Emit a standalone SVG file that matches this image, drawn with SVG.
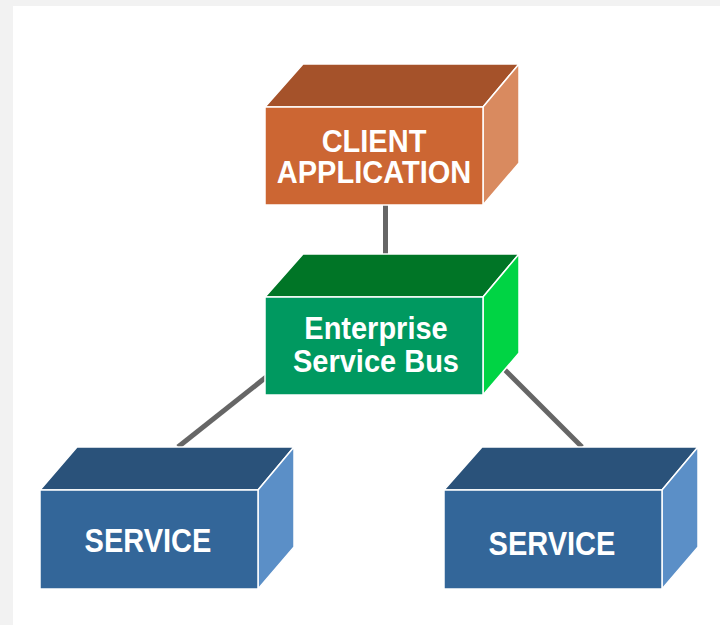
<svg xmlns="http://www.w3.org/2000/svg" width="720" height="625" viewBox="0 0 720 625">
<style>
.edge{stroke:#ffffff;stroke-width:1.5;stroke-linejoin:round}
.lbl{font-family:"Liberation Sans",Arial,sans-serif;font-weight:bold;font-size:29px;fill:#ffffff;text-anchor:middle}
.conn{stroke:#666666;stroke-width:5;fill:none}
</style>
<rect x="0" y="0" width="720" height="625" fill="#f2f2f2"/>
<rect x="13" y="6" width="707" height="619" fill="#ffffff"/>
<g id="connectors">
<line class="conn" x1="385.5" y1="200" x2="385.5" y2="258"/>
<line class="conn" x1="270" y1="374" x2="178" y2="447"/>
<line class="conn" x1="500" y1="365" x2="582" y2="447"/>
</g>
<g id="client">
<polygon class="edge" fill="#a5522a" points="265,107 303,64 519,64 483,107"/>
<polygon class="edge" fill="#d98a5f" points="483,107 519,64 519,163 483,205"/>
<rect class="edge" fill="#cc6633" x="265" y="107" width="218" height="98"/>
<text class="lbl" transform="translate(374,152) scale(1,1.06)">CLIENT</text>
<text class="lbl" transform="translate(374,183) scale(1,1.06)">APPLICATION</text>
</g>
<g id="esb">
<polygon class="edge" fill="#007526" points="265,297 303,254 519,254 483,297"/>
<polygon class="edge" fill="#00d444" points="483,297 519,254 519,353 483,395"/>
<rect class="edge" fill="#009960" x="265" y="297" width="218" height="98"/>
<text class="lbl" transform="translate(376,339) scale(1,1.06)">Enterprise</text>
<text class="lbl" transform="translate(376,372) scale(1,1.06)">Service Bus</text>
</g>
<g id="service-left">
<polygon class="edge" fill="#2a527a" points="40,490 77,447 294,447 258,490"/>
<polygon class="edge" fill="#5b8fc7" points="258,490 294,447 294,547 258,589"/>
<rect class="edge" fill="#336699" x="40" y="490" width="218" height="99"/>
<text class="lbl" transform="translate(148,552) scale(1,1.15)">SERVICE</text>
</g>
<g id="service-right">
<polygon class="edge" fill="#2a527a" points="444,490 482,447 698,447 662,490"/>
<polygon class="edge" fill="#5b8fc7" points="662,490 698,447 698,547 662,589"/>
<rect class="edge" fill="#336699" x="444" y="490" width="218" height="99"/>
<text class="lbl" transform="translate(552,555) scale(1,1.15)">SERVICE</text>
</g>
</svg>
